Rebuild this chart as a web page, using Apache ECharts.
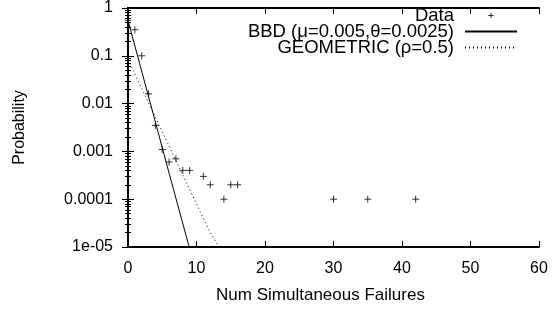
<!DOCTYPE html>
<html>
<head>
<meta charset="utf-8">
<script src="https://cdn.jsdelivr.net/npm/echarts@6/dist/echarts.min.js"></script>
<style>
  html, body { margin: 0; padding: 0; background: #fff; }
  #chart { width: 555px; height: 309px; }
</style>
</head>
<body>
<div id="chart"></div>
<script>
// measured data: number of simultaneous failures -> probability
const dataX = [0, 1, 2, 3, 4, 5, 6, 7, 8, 9, 11, 12, 14, 15, 16, 30, 35, 42];
const dataY = [0.55, 0.35, 0.1, 0.016, 0.0035, 0.0011, 0.0006, 0.0007, 0.0004, 0.0004,
  0.0003, 0.0002, 0.0001, 0.0002, 0.0002, 0.0001, 0.0001, 0.0001];

// model curves
const bbdX = [0, 3, 6, 9];
const bbdY = [0.55, 0.014, 0.00035, 0.0000092];
const geoX = [0, 4, 8, 12, 13.3];
const geoY = [0.083, 0.0052, 0.00032, 0.00002, 0.00001];

const yTickLabels = { 1: "1", 0.1: "0.1", 0.01: "0.01", 0.001: "0.001", 0.0001: "0.0001", 0.00001: "1e-05" };

const FONT = "Liberation Sans, Arial, Helvetica, sans-serif";
const zip = (xs, ys) => xs.map((x, i) => [x, ys[i]]);

const plus = "path://M0,5 L10,5 M5,0 L5,10";
const plusLegend = "path://M0,0 M16,16 M5,8 L11,8 M8,5 L8,11";
// hide the symbol that echarts puts in the middle of line legend icons
const noSymbol = { color: "transparent", borderWidth: 0 };

const chart = echarts.init(document.getElementById("chart"));
chart.setOption({
  animation: false,
  textStyle: { fontFamily: FONT, color: "#000" },
  grid: { left: 128, right: 16, top: 7, bottom: 59 },
  legend: {
    orient: "vertical",
    align: "right",
    right: 32,
    top: 1,
    itemWidth: 52,
    itemHeight: 14,
    itemGap: -3,
    textStyle: { fontSize: 18.5, lineHeight: 16, color: "#000", fontFamily: FONT, padding: [0, 6, 0, 0] },
    data: [
      { name: "Data", icon: plusLegend, itemStyle: { color: "transparent", borderColor: "#000", borderWidth: 1 } },
      { name: "BBD (μ=0.005,θ=0.0025)", itemStyle: noSymbol },
      { name: "GEOMETRIC (ρ=0.5)", itemStyle: noSymbol }
    ]
  },
  xAxis: [
    {
      type: "value", min: 0, max: 60, interval: 10,
      name: "Num Simultaneous Failures", nameLocation: "middle", nameGap: 40,
      nameTextStyle: { fontSize: 17, color: "#000", padding: [0, 26, 0, 0] },
      axisLine: { lineStyle: { color: "#000", width: 2 } },
      axisTick: { inside: true, length: 6, lineStyle: { color: "#000" } },
      axisLabel: { fontSize: 16, color: "#000", margin: 14 },
      splitLine: { show: false }
    },
    {
      type: "value", min: 0, max: 60, interval: 10, position: "top",
      axisLine: { lineStyle: { color: "#000", width: 2 } },
      axisTick: { inside: true, length: 6, lineStyle: { color: "#000" } },
      axisLabel: { show: false },
      splitLine: { show: false }
    }
  ],
  yAxis: [
    {
      type: "log", logBase: 10, min: 0.00001, max: 1,
      name: "Probability", nameLocation: "middle", nameGap: 100,
      nameTextStyle: { fontSize: 16, color: "#000" },
      axisLine: { show: true, lineStyle: { color: "#000", width: 2 } },
      axisTick: { inside: true, length: 6, lineStyle: { color: "#000" } },
      minorTick: { show: true, splitNumber: 9, length: 3, lineStyle: { color: "#000" } },
      axisLabel: { fontSize: 16, color: "#000", margin: 15,
        formatter: (v) => yTickLabels[v] !== undefined ? yTickLabels[v] : "" },
      splitLine: { show: false }
    },
    {
      type: "log", logBase: 10, min: 0.00001, max: 1, position: "right",
      axisLine: { show: true, lineStyle: { color: "#000", width: 2 } },
      axisTick: { inside: true, length: 6, lineStyle: { color: "#000" } },
      minorTick: { show: true, splitNumber: 9, length: 3, lineStyle: { color: "#000" } },
      axisLabel: { show: false },
      splitLine: { show: false }
    }
  ],
  series: [
    {
      name: "Data", type: "scatter", symbol: plus, symbolSize: 7,
      itemStyle: { color: "transparent", borderColor: "#000", borderWidth: 1 },
      data: zip(dataX, dataY)
    },
    {
      name: "BBD (μ=0.005,θ=0.0025)", type: "line", symbol: "none", clip: true,
      lineStyle: { color: "#000", width: 1, type: "solid" },
      itemStyle: { color: "#000" },
      data: zip(bbdX, bbdY)
    },
    {
      name: "GEOMETRIC (ρ=0.5)", type: "line", symbol: "none", clip: true,
      lineStyle: { color: "#000", width: 1, type: [1, 3] },
      itemStyle: { color: "#000" },
      data: zip(geoX, geoY)
    }
  ]
});
</script>
</body>
</html>
